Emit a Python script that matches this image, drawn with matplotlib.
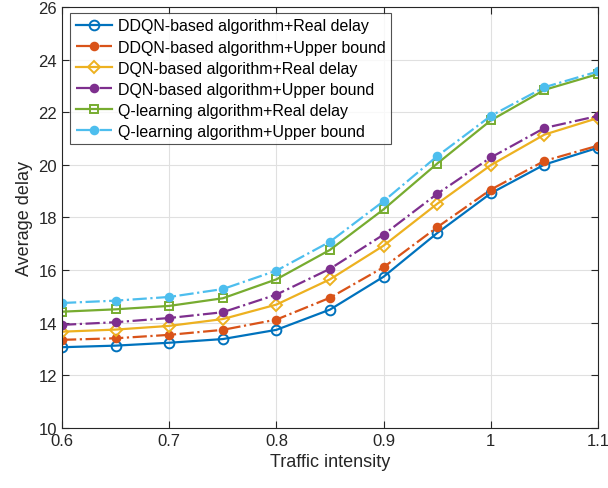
from matplotlib import pyplot as plt
import numpy as np

plt.rcParams['font.family'] = ['Liberation Sans', 'DejaVu Sans']

traffic = [0.6, 0.65, 0.7, 0.75, 0.8, 0.85, 0.9, 0.95, 1.0, 1.05, 1.1]

ddqn_real = [13.07, 13.13, 13.24, 13.38, 13.73, 14.50, 15.75, 17.41, 18.92, 20.01, 20.65]
ddqn_upper = [13.35, 13.41, 13.54, 13.73, 14.12, 14.95, 16.11, 17.63, 19.06, 20.15, 20.73]
dqn_real = [13.66, 13.74, 13.88, 14.14, 14.69, 15.65, 16.93, 18.52, 19.99, 21.15, 21.78]
dqn_upper = [13.92, 14.02, 14.18, 14.40, 15.07, 16.05, 17.35, 18.90, 20.28, 21.40, 21.86]
q_real = [14.42, 14.51, 14.64, 14.93, 15.65, 16.77, 18.31, 20.05, 21.69, 22.85, 23.45]
q_upper = [14.75, 14.84, 14.98, 15.28, 15.98, 17.08, 18.62, 20.33, 21.86, 22.95, 23.55]

labels = ['DDQN-based algorithm+Real delay',
          'DDQN-based algorithm+Upper bound',
          'DQN-based algorithm+Real delay',
          'DQN-based algorithm+Upper bound',
          'Q-learning algorithm+Real delay',
          'Q-learning algorithm+Upper bound']
series = [ddqn_real, ddqn_upper, dqn_real, dqn_upper, q_real, q_upper]
colors = ['#0072BD', '#D95319', '#EDB120', '#7E2F8E', '#77AC30', '#4DBEEE']
styles = [('-', 'o', 'none', 7), ('-.', 'o', None, 5.5), ('-', 'D', 'none', 6),
          ('-.', 'o', None, 5.5), ('-', 's', 'none', 5.5), ('-.', 'o', None, 5.5)]

fig = plt.figure(figsize=(6.08, 4.89), dpi=100)
ax = fig.add_axes([0.102, 0.1227, 0.8816, 0.861])

for ys, lab, c, (ls, mk, mfc, ms) in zip(series, labels, colors, styles):
    ax.plot(traffic, ys, linestyle=ls, marker=mk, color=c, label=lab,
            linewidth=1.6, markersize=ms, markeredgewidth=1.4,
            markerfacecolor=(mfc if mfc else c))

ax.set_xlim(0.6, 1.1)
ax.set_ylim(10, 26)
ax.set_xticks([0.6, 0.7, 0.8, 0.9, 1.0, 1.1])
ax.set_xticklabels(['0.6', '0.7', '0.8', '0.9', '1', '1.1'])
ax.set_yticks(np.arange(10, 27, 2))
ax.grid(True, color='#e0e0e0', linewidth=0.8)
ax.set_axisbelow(True)
ax.tick_params(direction='in', top=True, right=True, labelsize=12, length=5, colors='#262626')
for s in ax.spines.values():
    s.set_color('#262626')
ax.set_xlabel('Traffic intensity', fontsize=13, color='#262626')
ax.set_ylabel('Average delay', fontsize=13, color='#262626')

leg = ax.legend(loc='upper left', fontsize=11.5, frameon=True, fancybox=False,
                edgecolor='#262626', handlelength=2.3, labelspacing=0.38,
                borderpad=0.35, handletextpad=0.35, borderaxespad=0,
                bbox_to_anchor=(0.015, 0.986))
leg.get_frame().set_linewidth(0.8)

fig.savefig('out.png', dpi=100)
